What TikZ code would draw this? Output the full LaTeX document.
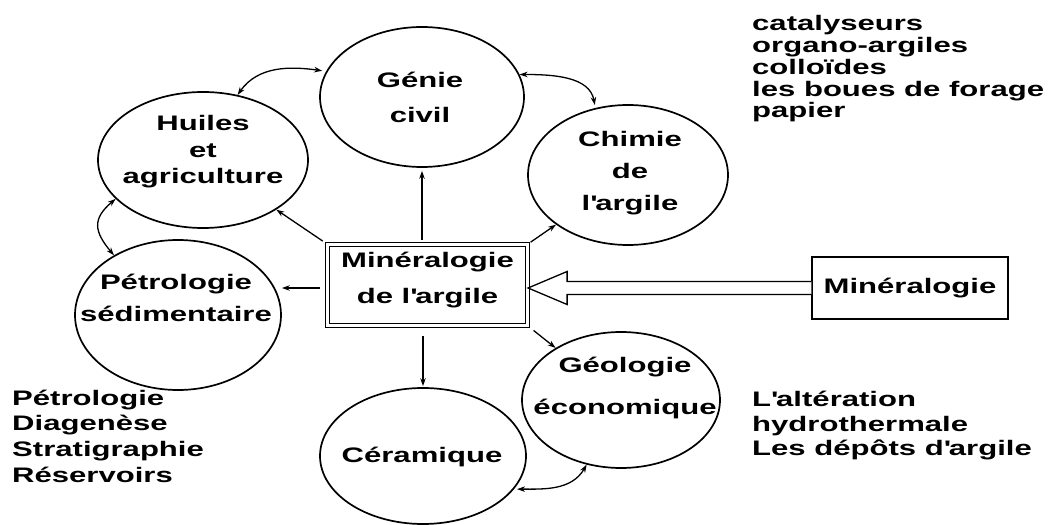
\documentclass[tikz,border=0pt]{standalone}
\usepackage{fontspec}
\setmainfont{Liberation Sans}[FakeStretch=1.48]
\usetikzlibrary{arrows.meta,shapes.geometric,calc}
\newcommand{\myq}{\textquotesingle}
\begin{document}
\begin{tikzpicture}[x=1pt,y=1pt,
  ell/.style={draw, ellipse, line width=1.7pt, inner sep=0pt},
  txt/.style={font=\bfseries\fontsize{21}{#1}\selectfont, align=center, anchor=base, inner sep=0pt},
  lst/.style={font=\bfseries\fontsize{21}{#1}\selectfont, align=left, anchor=base west, inner sep=0pt},
  arr/.style={line width=1.3pt, -{Stealth[length=8pt,width=5.5pt]}},
  darr/.style={line width=1.3pt, {Stealth[length=8pt,width=5.5pt]}-{Stealth[length=8pt,width=5.5pt]}},
  hollow/.style={line width=1.3pt, fill=white, line join=miter},
]
\useasboundingbox (0,0) rectangle (1050,525);
\fill[white] (0,0) rectangle (1050,525);

% ellipses
\node[ell, minimum width=204pt, minimum height=140pt] (gc) at (422,428) {};
\node[ell, minimum width=210pt, minimum height=136pt] (ha) at (203,365) {};
\node[ell, minimum width=206pt, minimum height=150pt] (ps) at (178,210) {};
\node[ell, minimum width=200pt, minimum height=140pt] (ch) at (628,350) {};
\node[ell, minimum width=198pt, minimum height=136pt] (ge) at (621,125) {};
\node[ell, minimum width=206pt, minimum height=136pt] (ce) at (423,69) {};

% texts in ellipses (anchored on the baseline of the last line)
\node[txt=35] (gct) at (420,402) {Génie\\civil};
\node[txt=26.6] (hat) at (203,341) {Huiles\\et\\agriculture};
\node[txt=32] (pst) at (176,203) {Pétrologie\\sédimentaire};
\node[txt=32] (cht) at (630,314) {Chimie\\de\\l\myq argile};
\node[txt=42] (get) at (625,110) {Géologie\\économique};
\node[txt=30] (cet) at (422,62) {Céramique};

% boxes
\node[draw, double, double distance=2.5pt, line width=1.2pt, minimum width=200pt,
      minimum height=81pt, inner sep=0pt, align=center,
      font=\bfseries\fontsize{21}{36}\selectfont] (cb) at (427.5,240)
      {Minéralogie\\de l\myq argile\rule[-14pt]{0pt}{14pt}};
\node[draw, line width=1.5pt, minimum width=196pt, minimum height=62pt, inner sep=0pt,
      font=\bfseries\fontsize{21}{25}\selectfont] (mn) at (910,237) {Minéralogie};

% hollow arrow
\coordinate (tip) at (cb.east |- mn.west);
\draw[hollow] ([yshift=6.5pt]mn.west) -- ([shift={(39pt,6.5pt)}]tip)
  -- ([shift={(39pt,16.5pt)}]tip) -- (tip) -- ([shift={(39pt,-16.5pt)}]tip)
  -- ([shift={(39pt,-6.5pt)}]tip) -- ([yshift=-6.5pt]mn.west);

% straight arrows from central box
\draw[arr, shorten <=4pt, shorten >=3pt] (cb.north -| gc.south) -- (gc.south);
\draw[arr, shorten <=5pt] (cb.north west) -- (ha);
\draw[arr, shorten <=3pt] (cb.north east) -- (ch);
\coordinate (lw) at ([yshift=-3pt]cb.west);
\draw[arr, shorten <=7pt] (lw) -- (lw -| ps.east);
\draw[arr, shorten <=10pt, shorten >=1pt] (cb.south -| ce.north) -- (ce.north);
\draw[arr, shorten <=7pt] (cb.south east) -- (ge);

% curved double arrows
\draw[darr, shorten >=4pt] (ha.62) to[out=55,in=172] (gc.165);
\draw[darr, shorten >=3pt] (gc.13) to[out=0,in=100] (ch.116);
\draw[darr] (ha.204) to[out=220,in=130,looseness=1.4] (ps.137);
\draw[darr, shorten <=3pt] (ce.-20) to[out=0,in=240] (ge.242);

% lists (anchored on the baseline of the last line)
\node[lst=21.7] (l1) at (752,407.2) {catalyseurs\\organo-argiles\\colloïdes\\les boues de forage\\papier};
\node[lst=25.7] (l2) at (12,42.9) {Pétrologie\\Diagenèse\\Stratigraphie\\Réservoirs};
\node[lst=24.2] (l3) at (752,69.6) {L\myq altération\\hydrothermale\\Les dépôts d\myq argile};
\end{tikzpicture}
\end{document}
